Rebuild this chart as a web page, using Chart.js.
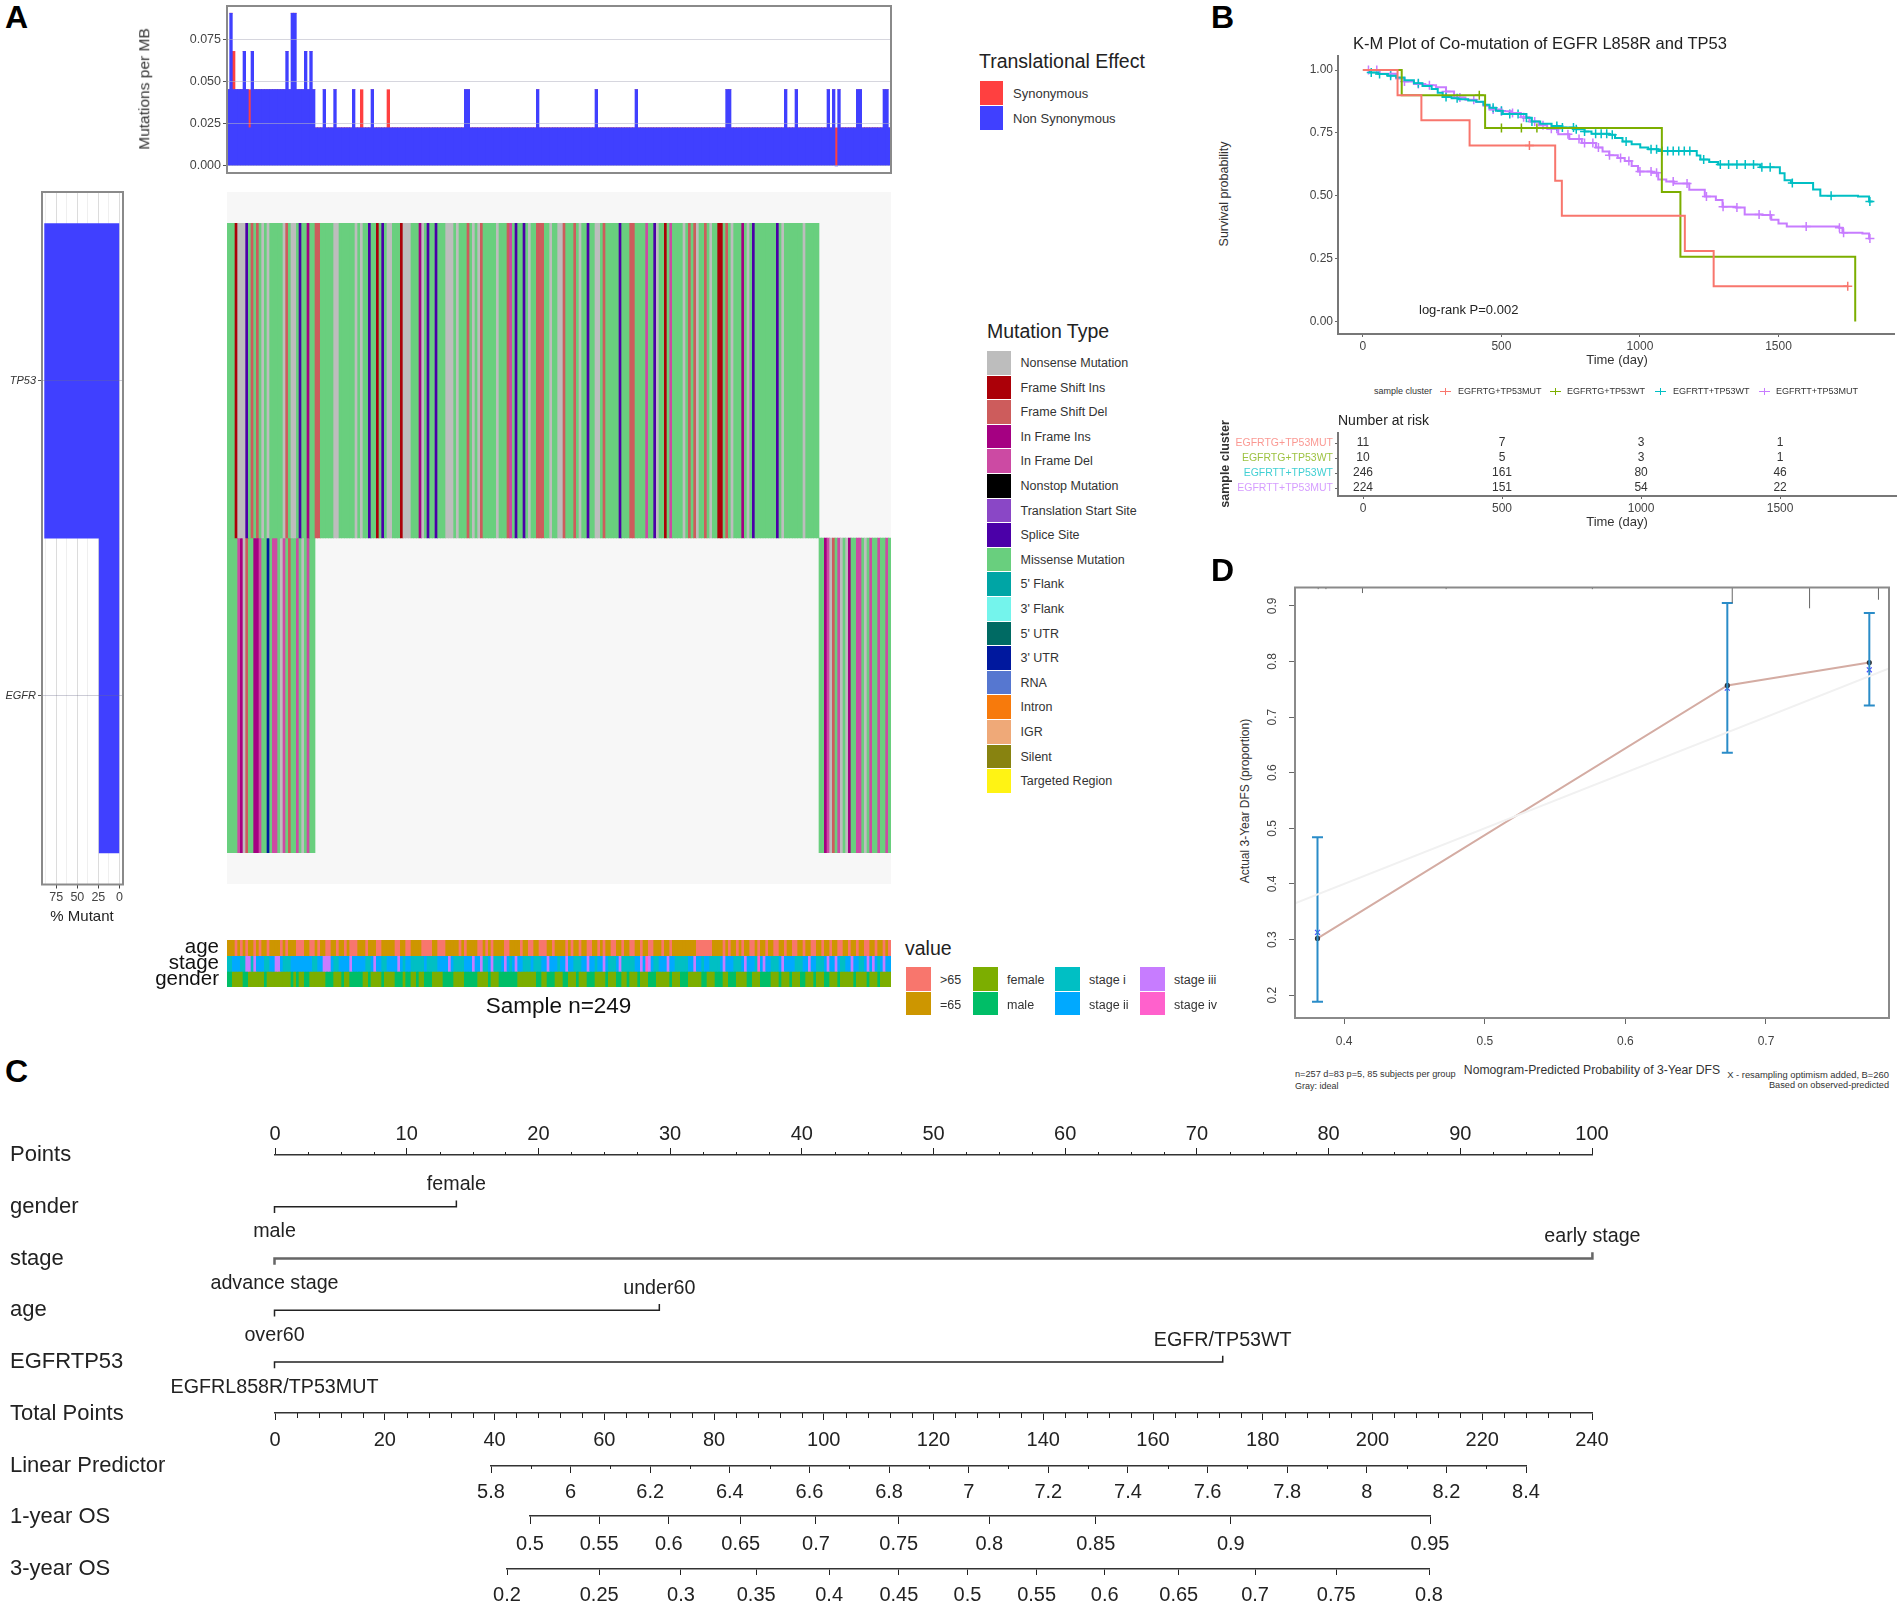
<!DOCTYPE html>
<html>
<head>
<meta charset="utf-8">
<title>EGFR L858R and TP53 figure</title>
<script src="https://cdn.jsdelivr.net/npm/chart.js@4/dist/chart.umd.min.js"></script>
<style>
  body { margin: 0; background: #fff; width: 1900px; height: 1604px; position: relative; overflow: hidden; font-family: "Liberation Sans", Arial, sans-serif; }
  canvas { position: absolute; }
  canvas.soft { filter: blur(0.5px); }
  .t { position: absolute; white-space: nowrap; line-height: 1; }
  .sw { position: absolute; }
</style>
</head>
<body>
<script>
// ---- panel A: mutation burden, read as sample index lists
const sampleCount = 249;
const sampleIds = Array.from({ length: sampleCount }, (_, i) => i);
const tmbLevels = [0, 0.0227, 0.0455, 0.0682, 0.0909];
const tmbTwoHits = [36, 40, 47, 54, 89, 90, 116, 138, 153, 187, 188, 209, 213, 225, 227, 229, 236, 237, 246, 247];
const tmbThreeHits = [6, 9, 22, 29, 31];
const tmbFourHits = [1, 24, 25];
const tmbSynSamples = [2, 8, 50, 60, 228];
const tmbSynBelow = [2, 1, 1, 1, 0];   // non synonymous hits under the red segment
const tmbTicks = [0, 0.025, 0.05, 0.075];

// ---- panel A: oncoplot
const tp53Count = 222;      // first samples carry TP53
const egfrLeftCount = 33;   // of those, also EGFR
const tp53Nonsense = [4, 5, 6, 13, 15, 21, 24, 25, 40, 41, 48, 50, 60, 61, 66, 67, 68, 73, 82, 83, 84, 86, 92, 94, 101, 113, 121, 124, 125, 132, 138, 139, 161, 171, 176, 181, 189, 195, 208, 216];
const tp53FsDel = [9, 11, 22, 33, 34, 90, 95, 105, 116, 117, 118, 126, 130, 141, 151, 152, 173, 175, 179, 187];
const tp53FsIns = [3, 56, 65, 164, 184, 185];
const tp53InIns = [30, 72, 193];
const tp53InDel = [106, 157, 166];
const tp53Splice = [7, 27, 53, 58, 75, 78, 108, 111, 135, 147, 160, 197, 206];
const egfrInDel = [4, 12, 17, 18, 21, 26, 30, 225, 229, 236, 237, 241, 244, 247];
const egfrInIns = [5, 10, 11, 224, 233];
const egfrFsDel = [7, 23, 227];
const egfrNonsense = [6, 20, 28, 226, 230, 232, 239];
const egfrRna = [15];
const geneNames = ['TP53', 'EGFR'];
const genePercent = [88.9, 24];
const percentTicks = [87.5, 75, 62.5, 50, 37.5, 25, 12.5, 0];

const mutationTypes = ['Nonsense Mutation', 'Frame Shift Ins', 'Frame Shift Del', 'In Frame Ins', 'In Frame Del', 'Nonstop Mutation', 'Translation Start Site', 'Splice Site', 'Missense Mutation', "5' Flank", "3' Flank", "5' UTR", "3' UTR", 'RNA', 'Intron', 'IGR', 'Silent', 'Targeted Region'];
const mutationColors = ['#bdbdbd', '#ab0008', '#cd5c5c', '#a50082', '#cc4aa3', '#000000', '#8a47c6', '#4b00a8', '#69cf7e', '#00a5a5', '#74f4ec', '#006a63', '#00189e', '#5677d0', '#f77a0c', '#efa978', '#888310', '#fff314'];
const effectNames = ['Synonymous', 'Non Synonymous'];
const effectColors = ['#ff4040', '#4040ff'];

// ---- panel A: clinical strips
const ageOver65 = [3, 5, 7, 10, 12, 15, 20, 22, 26, 27, 28, 31, 32, 34, 37, 38, 41, 44, 46, 47, 48, 52, 56, 57, 63, 64, 67, 68, 73, 74, 75, 76, 79, 80, 81, 87, 89, 94, 95, 97, 99, 104, 105, 110, 113, 114, 117, 118, 119, 122, 127, 129, 132, 135, 136, 139, 141, 144, 145, 148, 151, 152, 155, 158, 159, 163, 166, 176, 177, 178, 179, 180, 181, 186, 188, 191, 193, 196, 197, 199, 202, 205, 206, 209, 212, 213, 216, 219, 220, 223, 226, 229, 230, 233, 236, 239, 240, 243, 246, 248];
const stageOne = [0, 1, 5, 6, 9, 14, 15, 21, 22, 23, 32, 33, 40, 41, 52, 53, 58, 59, 66, 69, 70, 71, 72, 73, 75, 76, 77, 78, 85, 86, 87, 88, 96, 97, 100, 101, 102, 106, 111, 112, 113, 115, 116, 117, 124, 130, 131, 132, 138, 143, 144, 145, 148, 149, 150, 151, 152, 160, 161, 168, 169, 170, 171, 172, 178, 181, 182, 183, 184, 190, 191, 192, 198, 204, 205, 206, 213, 214, 215, 221, 222, 223, 230, 231, 237, 238, 244];
const stageThree = [7, 8, 10, 18, 19, 36, 37, 38, 46, 55, 64, 83, 92, 95, 99, 104, 108, 120, 127, 135, 141, 147, 155, 158, 165, 175, 186, 194, 201, 208, 218, 225, 228, 234, 240, 242, 246];
const stageFour = [157, 199];
const genderMale = [0, 1, 6, 7, 14, 24, 26, 29, 30, 37, 38, 39, 43, 46, 47, 48, 49, 50, 53, 58, 63, 64, 65, 67, 68, 71, 74, 75, 76, 81, 82, 83, 84, 89, 90, 91, 92, 93, 98, 102, 103, 104, 105, 106, 107, 108, 116, 117, 120, 121, 122, 126, 127, 131, 135, 136, 137, 142, 146, 147, 150, 154, 158, 159, 160, 166, 170, 171, 172, 178, 179, 183, 184, 185, 188, 189, 190, 195, 196, 200, 201, 202, 203, 207, 211, 215, 216, 220, 224, 225, 229, 235, 240, 244];
const clinicalRows = ['gender', 'stage', 'age'];
const valueNames = ['>65', '=65', 'female', 'male', 'stage i', 'stage ii', 'stage iii', 'stage iv'];
const valueColors = ['#f8766d', '#cd9600', '#7cae00', '#00be67', '#00bfc4', '#00a9ff', '#c77cff', '#ff61cc'];

// ---- panel B: survival curves
const clusterNames = ['EGFRTG+TP53MUT', 'EGFRTG+TP53WT', 'EGFRTT+TP53WT', 'EGFRTT+TP53MUT'];
const clusterColors = ['#f8766d', '#7cae00', '#00bfc4', '#c77cff'];
const tgMutDays = [0, 125, 211, 385, 694, 718, 1162, 1266, 1750];
const tgMutSurv = [1, 0.9, 0.8, 0.7, 0.56, 0.42, 0.28, 0.14, 0.14];
const tgMutCensor = [601, 1750];
const tgWtDays = [0, 140, 441, 1079, 1146, 1777];
const tgWtSurv = [1, 0.9, 0.77, 0.515, 0.257, 0];
const tgWtCensor = [420, 500, 572, 628];
const ttWtDays = [0, 25, 56, 90, 120, 150, 184, 215, 248, 270, 288, 320, 345, 380, 409, 435, 457, 480, 505, 590, 609, 640, 681, 720, 761, 800, 825, 889, 910, 937, 970, 1001, 1030, 1066, 1205, 1218, 1250, 1282, 1434, 1505, 1522, 1545, 1625, 1651, 1787, 1827, 1840];
const ttWtSurv = [1, 0.99, 0.984, 0.977, 0.97, 0.96, 0.948, 0.937, 0.925, 0.91, 0.893, 0.888, 0.884, 0.879, 0.874, 0.862, 0.85, 0.838, 0.825, 0.81, 0.795, 0.786, 0.778, 0.772, 0.765, 0.756, 0.747, 0.743, 0.73, 0.716, 0.705, 0.692, 0.685, 0.678, 0.66, 0.644, 0.634, 0.624, 0.613, 0.59, 0.562, 0.551, 0.525, 0.5, 0.497, 0.477, 0.477];
const ttWtCensor = [30, 60, 100, 200, 300, 340, 470, 500, 530, 560, 590, 610, 700, 720, 760, 770, 800, 840, 860, 880, 900, 950, 1040, 1060, 1080, 1100, 1120, 1140, 1160, 1180, 1230, 1290, 1320, 1350, 1380, 1410, 1440, 1470, 1550, 1690, 1830];
const ttMutDays = [0, 60, 120, 150, 184, 225, 264, 300, 329, 370, 409, 435, 457, 500, 537, 570, 601, 635, 665, 705, 745, 790, 841, 865, 889, 920, 945, 970, 993, 1042, 1066, 1095, 1122, 1178, 1234, 1274, 1298, 1346, 1378, 1442, 1474, 1500, 1530, 1719, 1731, 1803, 1827, 1830];
const ttMutSurv = [1, 0.985, 0.966, 0.955, 0.945, 0.94, 0.932, 0.915, 0.891, 0.882, 0.873, 0.858, 0.843, 0.836, 0.829, 0.812, 0.795, 0.78, 0.767, 0.745, 0.726, 0.71, 0.692, 0.676, 0.661, 0.65, 0.638, 0.618, 0.596, 0.592, 0.565, 0.557, 0.549, 0.524, 0.497, 0.483, 0.456, 0.453, 0.425, 0.423, 0.405, 0.39, 0.378, 0.373, 0.353, 0.35, 0.33, 0.33];
const ttMutCensor = [20, 50, 100, 150, 200, 240, 300, 350, 400, 470, 500, 540, 580, 620, 650, 680, 700, 740, 780, 800, 830, 850, 890, 930, 960, 1000, 1040, 1060, 1120, 1170, 1240, 1300, 1350, 1430, 1470, 1600, 1720, 1735, 1830];
const dayTicks = [0, 500, 1000, 1500];
const survTicks = [0, 0.25, 0.5, 0.75, 1];
const riskTgMut = [11, 7, 3, 1];
const riskTgWt = [10, 5, 3, 1];
const riskTtWt = [246, 161, 80, 46];
const riskTtMut = [224, 151, 54, 22];

// ---- panel D: calibration
const calPredicted = [0.381, 0.6725, 0.7735];
const calObserved = [0.302, 0.757, 0.798];
const calCorrected = [0.313, 0.752, 0.785];
const calLower = [0.188, 0.636, 0.721];
const calUpper = [0.484, 0.905, 0.887];
const idealLine = [0.365, 0.7875];
const rugX = [0.3815, 0.387, 0.413, 0.4725, 0.5765, 0.676, 0.731, 0.78];
const rugEnd = [0.93, 0.93, 0.923, 0.93, 0.93, 0.905, 0.8956, 0.911];
const calXTicks = [0.4, 0.5, 0.6, 0.7];
const calYTicks = [0.2, 0.3, 0.4, 0.5, 0.6, 0.7, 0.8, 0.9];

// ---- panel C: nomogram
const nomoRows = ['Points', 'gender', 'stage', 'age', 'EGFRTP53', 'Total Points', 'Linear Predictor', '1-year OS', '3-year OS'];
const pointsTicks = [0, 10, 20, 30, 40, 50, 60, 70, 80, 90, 100];
const pointsMinor = [2.5, 5, 7.5, 12.5, 15, 17.5, 22.5, 25, 27.5, 32.5, 35, 37.5, 42.5, 45, 47.5, 52.5, 55, 57.5, 62.5, 65, 67.5, 72.5, 75, 77.5, 82.5, 85, 87.5, 92.5, 95, 97.5];
const genderPoints = [0, 13.8];
const stagePoints = [0, 100];
const agePoints = [0, 29.2];
const egfrPoints = [0, 71.95];
const genderLabels = ['male', 'female'];
const stageLabels = ['advance stage', 'early stage'];
const ageLabels = ['over60', 'under60'];
const egfrLabels = ['EGFRL858R/TP53MUT', 'EGFR/TP53WT'];
const totalTicks = [0, 20, 40, 60, 80, 100, 120, 140, 160, 180, 200, 220, 240];
const totalMinor = [4, 8, 12, 16, 24, 28, 32, 36, 44, 48, 52, 56, 64, 68, 72, 76, 84, 88, 92, 96, 104, 108, 112, 116, 124, 128, 132, 136, 144, 148, 152, 156, 164, 168, 172, 176, 184, 188, 192, 196, 204, 208, 212, 216, 224, 228, 232, 236];
const lpTicks = [5.8, 6, 6.2, 6.4, 6.6, 6.8, 7, 7.2, 7.4, 7.6, 7.8, 8, 8.2, 8.4];
const lpMinor = [5.9, 6.1, 6.3, 6.5, 6.7, 6.9, 7.1, 7.3, 7.5, 7.7, 7.9, 8.1, 8.3];
// survival axes are not linear: tick positions read on the total points scale
const os1Labels = ['0.5', '0.55', '0.6', '0.65', '0.7', '0.75', '0.8', '0.85', '0.9', '0.95'];
const os1AtTotal = [46.5, 59.1, 71.8, 84.9, 98.6, 113.7, 130.2, 149.6, 174.2, 210.5];
const os3Labels = ['0.2', '0.25', '0.3', '0.35', '0.4', '0.45', '0.5', '0.55', '0.6', '0.65', '0.7', '0.75', '0.8'];
const os3AtTotal = [42.3, 59.1, 74, 87.7, 101, 113.7, 126.2, 138.8, 151.2, 164.7, 178.6, 193.4, 210.3];

// ---- helpers
Chart.defaults.animation = false;
Chart.defaults.responsive = false;
Chart.defaults.font.family = '"Liberation Sans", Arial, sans-serif';
Chart.defaults.plugins.legend.display = false;
Chart.defaults.plugins.tooltip.enabled = false;

function text(str, x, y, o = {}) {
  const el = document.createElement('div');
  el.className = 't';
  el.textContent = str;
  const dx = o.anchor === 'l' ? '0' : o.anchor === 'r' ? '-100%' : '-50%';
  el.style.cssText = `left:${x}px;top:${y}px;font-size:${o.size || 12}px;color:${o.color || '#222'};` +
    `font-weight:${o.bold ? 'bold' : 'normal'};transform:translate(${dx},-50%)${o.rot ? ` rotate(${o.rot}deg)` : ''};`;
  document.body.appendChild(el);
}

function swatch(x, y, w, h, color) {
  const el = document.createElement('div');
  el.className = 'sw';
  el.style.cssText = `left:${x}px;top:${y}px;width:${w}px;height:${h}px;background:${color};`;
  document.body.appendChild(el);
}

// box and plot are page rectangles, the scales are forced to leave exactly that plot area
function place(box, plot, config, soft) {
  const c = document.createElement('canvas');
  c.width = box.w; c.height = box.h;
  c.style.left = box.x + 'px'; c.style.top = box.y + 'px';
  if (soft) c.className = 'soft';
  document.body.appendChild(c);
  const sc = config.options.scales;
  const atTop = sc.x.position === 'top';
  sc.x.afterFit = s => {
    s.height = atTop ? plot.t - box.y : box.y + box.h - plot.b;
    s.paddingLeft = s.paddingRight = 0;
  };
  sc.y.afterFit = s => {
    s.width = plot.l - box.x;
    s.paddingTop = s.paddingBottom = 0;
  };
  config.options.layout = {
    padding: {
      left: 0,
      top: atTop ? 0 : plot.t - box.y,
      right: box.x + box.w - plot.r,
      bottom: atTop ? box.y + box.h - plot.b : 0
    }
  };
  return new Chart(c.getContext('2d'), config);
}

const framePlugin = color => ({
  id: 'frame',
  afterDraw(chart) {
    const a = chart.chartArea, ctx = chart.ctx;
    ctx.save();
    ctx.strokeStyle = color;
    ctx.lineWidth = 2;
    ctx.strokeRect(a.left, a.top, a.right - a.left, a.bottom - a.top);
    ctx.restore();
  }
});

const backdropPlugin = color => ({
  id: 'backdrop',
  beforeDatasetsDraw(chart) {
    const a = chart.chartArea;
    chart.ctx.fillStyle = color;
    chart.ctx.fillRect(a.left, a.top, a.right - a.left, a.bottom - a.top);
  }
});

const setTicks = vals => s => { s.ticks = vals.map(v => ({ value: v })); };

// ---- A: mutations per MB
const hits = i => {
  if (tmbFourHits.includes(i)) return 4;
  if (tmbThreeHits.includes(i)) return 3;
  if (tmbTwoHits.includes(i) || i < egfrLeftCount) return 2;
  return 1;
};
const nonSynSeries = sampleIds.map(i => {
  const k = tmbSynSamples.indexOf(i);
  return tmbLevels[k >= 0 ? tmbSynBelow[k] : hits(i)];
});
const synSeries = sampleIds.map(i => (tmbSynSamples.includes(i) ? tmbLevels[1] : 0));

place({ x: 130, y: 0, w: 770, h: 180 }, { l: 227, t: 6, r: 891, b: 173 }, {
  type: 'bar',
  data: {
    labels: sampleIds,
    datasets: [
      { label: effectNames[1], data: nonSynSeries, backgroundColor: effectColors[1], barPercentage: 1, categoryPercentage: 1 },
      { label: effectNames[0], data: synSeries, backgroundColor: effectColors[0], barPercentage: 1, categoryPercentage: 1 }
    ]
  },
  options: {
    scales: {
      x: { stacked: true, display: false },
      y: {
        stacked: true, min: -0.0042, max: 0.0952,
        afterBuildTicks: setTicks(tmbTicks),
        ticks: { callback: v => v.toFixed(3), color: '#444', font: { size: 12.5 }, padding: 2 },
        grid: { color: 'rgba(180,180,195,.55)', tickColor: '#555', tickLength: 4, z: 1 },
        border: { display: false }
      }
    }
  },
  plugins: [framePlugin('#8a8a8a')]
}, true);

// ---- A: % mutant
place({ x: 0, y: 185, w: 130, h: 725 }, { l: 42, t: 192, r: 123, b: 884.5 }, {
  type: 'bar',
  data: {
    datasets: [{
      data: genePercent.map((v, i) => ({ x: v, y: i === 0 ? 1.5 : 0.5 })),
      backgroundColor: effectColors[1], barPercentage: 1, categoryPercentage: 1
    }]
  },
  options: {
    indexAxis: 'y',
    scales: {
      x: {
        type: 'linear', reverse: true, min: -4.3, max: 92,
        afterBuildTicks: setTicks(percentTicks),
        ticks: { autoSkip: false, maxRotation: 0, color: '#444', font: { size: 12.5 }, padding: 2, callback: v => (v % 25 === 0 ? String(v) : '') },
        grid: { color: c => (c.tick && c.tick.value % 25 === 0 ? '#dcdcdc' : '#efefef'), tickColor: c => (c.tick && c.tick.value % 25 === 0 ? '#444' : 'transparent'), tickLength: 4 },
        border: { display: false }
      },
      y: {
        type: 'linear', min: -0.1, max: 2.1, offset: false,
        afterBuildTicks: setTicks([0.5, 1.5]),
        ticks: { autoSkip: false, color: '#333', font: { size: 11, style: 'italic' }, padding: 2, callback: v => (v > 1 ? geneNames[0] : geneNames[1]) },
        grid: { offset: false, color: 'rgba(110,110,140,.35)', tickColor: '#555', tickLength: 4, z: 1 },
        border: { display: false }
      }
    }
  },
  plugins: [framePlugin('#8a8a8a')]
}, true);

// ---- A: oncoplot
const colorOf = name => mutationColors[mutationTypes.indexOf(name)];
function cellColors(groups) {
  return sampleIds.map(i => {
    for (const [list, name] of groups) if (list.includes(i)) return colorOf(name);
    return colorOf('Missense Mutation');
  });
}
const tp53Colors = cellColors([[tp53Nonsense, 'Nonsense Mutation'], [tp53FsDel, 'Frame Shift Del'], [tp53FsIns, 'Frame Shift Ins'], [tp53InIns, 'In Frame Ins'], [tp53InDel, 'In Frame Del'], [tp53Splice, 'Splice Site']]);
const egfrColors = cellColors([[egfrNonsense, 'Nonsense Mutation'], [egfrFsDel, 'Frame Shift Del'], [egfrInIns, 'In Frame Ins'], [egfrInDel, 'In Frame Del'], [egfrRna, "3' UTR"]]);
const tp53Cells = sampleIds.map(i => (i < tp53Count ? [1, 2] : null));
const egfrCells = sampleIds.map(i => (i < egfrLeftCount || i >= tp53Count ? [0, 1] : null));

place({ x: 227, y: 192, w: 664, h: 692.5 }, { l: 227, t: 192, r: 891, b: 884.5 }, {
  type: 'bar',
  data: {
    labels: sampleIds,
    datasets: [
      { label: 'TP53', data: tp53Cells, backgroundColor: tp53Colors, barPercentage: 1, categoryPercentage: 1, grouped: false },
      { label: 'EGFR', data: egfrCells, backgroundColor: egfrColors, barPercentage: 1, categoryPercentage: 1, grouped: false }
    ]
  },
  options: {
    scales: {
      x: { display: false },
      y: { display: false, min: -0.1, max: 2.1 }
    }
  },
  plugins: [backdropPlugin('#f7f7f7')]
}, true);

// ---- A: clinical strips
const vc = name => valueColors[valueNames.indexOf(name)];
const ageColors = sampleIds.map(i => (ageOver65.includes(i) ? vc('>65') : vc('=65')));
const stageColors = sampleIds.map(i => {
  if (stageFour.includes(i)) return vc('stage iv');
  if (stageThree.includes(i)) return vc('stage iii');
  return stageOne.includes(i) ? vc('stage i') : vc('stage ii');
});
const genderColors = sampleIds.map(i => (genderMale.includes(i) ? vc('male') : vc('female')));

place({ x: 140, y: 930, w: 760, h: 70 }, { l: 227, t: 940, r: 891, b: 987 }, {
  type: 'bar',
  data: {
    labels: sampleIds,
    datasets: [
      { label: 'age', data: sampleIds.map(() => [1.5, 2.5]), backgroundColor: ageColors, barPercentage: 1, categoryPercentage: 1, grouped: false },
      { label: 'stage', data: sampleIds.map(() => [0.5, 1.5]), backgroundColor: stageColors, barPercentage: 1, categoryPercentage: 1, grouped: false },
      { label: 'gender', data: sampleIds.map(() => [-0.5, 0.5]), backgroundColor: genderColors, barPercentage: 1, categoryPercentage: 1, grouped: false }
    ]
  },
  options: {
    scales: {
      x: { display: false },
      y: {
        type: 'linear', min: -0.5, max: 2.5,
        afterBuildTicks: setTicks([0, 1, 2]),
        ticks: { autoSkip: false, color: '#111', font: { size: 20.5 }, padding: 8, callback: v => clinicalRows[v] },
        grid: { display: false, drawTicks: false },
        border: { display: false }
      }
    }
  }
}, true);

// ---- A: titles and legends
text('A', 5, 17, { size: 32, bold: true, anchor: 'l', color: '#000' });
text('Mutations per MB', 144, 89, { size: 15.5, rot: -90, color: '#333' });
text('% Mutant', 82, 915, { size: 15, color: '#222' });
text('Sample n=249', 558.5, 1005.5, { size: 22.5, color: '#111' });

text('Translational Effect', 979, 62, { size: 19.5, anchor: 'l' });
effectNames.forEach((n, i) => {
  swatch(980, 81 + i * 24.5, 23, 24, effectColors[i]);
  text(n, 1013, 93 + i * 25, { size: 13, anchor: 'l', color: '#333' });
});
text('Mutation Type', 987, 332, { size: 19.5, anchor: 'l' });
mutationTypes.forEach((n, i) => {
  swatch(987, 351 + i * 24.6, 24, 23.6, mutationColors[i]);
  text(n, 1020.5, 363 + i * 24.6, { size: 12.5, anchor: 'l', color: '#333' });
});
text('value', 905, 949, { size: 19.5, anchor: 'l' });
[[906, 940], [973, 1007], [1055, 1089], [1140, 1174]].forEach(([sx, tx], col) => {
  [0, 1].forEach(row => {
    const k = col * 2 + row;
    swatch(sx, 967 + row * 24.5, 24.5, 23.5, valueColors[k]);
    text(valueNames[k], tx, 980 + row * 24.5, { size: 12.5, anchor: 'l', color: '#333' });
  });
});

// ---- B: survival
const toPoints = (days, surv) => days.map((d, i) => ({ x: d, y: surv[i] }));
function survAt(days, surv, day) {
  let s = surv[0];
  days.forEach((d, i) => { if (d <= day) s = surv[i]; });
  return s;
}
const curves = [
  [tgMutDays, tgMutSurv, tgMutCensor],
  [tgWtDays, tgWtSurv, tgWtCensor],
  [ttWtDays, ttWtSurv, ttWtCensor],
  [ttMutDays, ttMutSurv, ttMutCensor]
];
const kmLines = curves.map(([d, s], i) => ({
  label: clusterNames[i], data: toPoints(d, s), stepped: true, showLine: true,
  borderColor: clusterColors[i], borderWidth: 2, pointRadius: 0
}));
const kmMarks = curves.map(([d, s, c], i) => ({
  label: clusterNames[i] + ' censored', data: c.map(day => ({ x: day, y: survAt(d, s, day) })), showLine: false,
  pointStyle: 'cross', pointRadius: 4.5, pointBorderWidth: 1.5, pointBorderColor: clusterColors[i], borderColor: clusterColors[i]
}));

const dayAxis = {
  type: 'linear', min: -90, max: 1917,
  afterBuildTicks: setTicks(dayTicks),
  ticks: { autoSkip: false, maxRotation: 0, color: '#444', font: { size: 12 }, padding: 2, callback: v => String(v) },
  grid: { drawOnChartArea: false, tickLength: 3, tickColor: '#666' },
  border: { color: '#777', width: 2 }
};

place({ x: 1240, y: 50, w: 660, h: 310 }, { l: 1338, t: 55, r: 1896, b: 334 }, {
  type: 'scatter',
  data: { datasets: [...kmLines, ...kmMarks] },
  options: {
    scales: {
      x: dayAxis,
      y: {
        min: -0.05, max: 1.056,
        afterBuildTicks: setTicks(survTicks),
        ticks: { autoSkip: false, color: '#444', font: { size: 12 }, padding: 2, callback: v => v.toFixed(2) },
        grid: { drawOnChartArea: false, tickLength: 3, tickColor: '#666' },
        border: { color: '#777', width: 2 }
      }
    }
  }
}, true);

// ---- B: numbers at risk
const riskSeries = [riskTgMut, riskTgWt, riskTtWt, riskTtMut];
const riskPlugin = {
  id: 'riskNumbers',
  afterDatasetsDraw(chart) {
    const ctx = chart.ctx;
    ctx.save();
    ctx.fillStyle = '#333';
    ctx.font = '12px "Liberation Sans"';
    ctx.textAlign = 'center';
    ctx.textBaseline = 'middle';
    chart.data.datasets.forEach((ds, k) => {
      chart.getDatasetMeta(k).data.forEach((pt, i) => ctx.fillText(String(riskSeries[k][i]), pt.x, pt.y));
    });
    ctx.restore();
  }
};
const paleCluster = ['rgba(248,118,109,.75)', 'rgba(124,174,0,.75)', 'rgba(0,191,196,.75)', 'rgba(199,124,255,.75)'];
place({ x: 1200, y: 425, w: 700, h: 90 }, { l: 1338, t: 433, r: 1896, b: 496 }, {
  type: 'scatter',
  data: {
    datasets: riskSeries.map((vals, r) => ({
      label: clusterNames[r], data: vals.map((v, i) => ({ x: dayTicks[i], y: r })), pointRadius: 0, showLine: false
    }))
  },
  options: {
    scales: {
      x: { ...dayAxis, ticks: { ...dayAxis.ticks } },
      y: {
        type: 'linear', reverse: true, min: -0.667, max: 3.53,
        afterBuildTicks: setTicks([0, 1, 2, 3]),
        ticks: { autoSkip: false, color: c => paleCluster[c.index], font: { size: 10.5 }, padding: 2, callback: v => clusterNames[v] },
        grid: { drawOnChartArea: false, tickLength: 3, tickColor: '#666' },
        border: { color: '#777', width: 2 }
      }
    }
  },
  plugins: [riskPlugin]
}, true);

text('B', 1211, 17, { size: 32, bold: true, anchor: 'l', color: '#000' });
text('K-M Plot of Co-mutation of EGFR L858R and TP53', 1353, 43, { size: 16.5, anchor: 'l', color: '#222' });
text('log-rank P=0.002', 1419, 309, { size: 13, anchor: 'l', color: '#222' });
text('Survival probability', 1224, 194, { size: 12.5, rot: -90, color: '#333' });
text('Time (day)', 1617, 359, { size: 13, color: '#333' });
text('sample cluster', 1374, 391, { size: 9, anchor: 'l', color: '#333' });
[[1440, 1458], [1550, 1567], [1655, 1673], [1759, 1776]].forEach(([mx, tx], i) => {
  swatch(mx, 390.5, 11, 1.5, clusterColors[i]);
  swatch(mx + 4.7, 387.5, 1.5, 7.5, clusterColors[i]);
  text(clusterNames[i], tx, 391, { size: 9, anchor: 'l', color: '#333' });
});
text('Number at risk', 1338, 420, { size: 14, anchor: 'l', color: '#222' });
text('sample cluster', 1224.5, 464, { size: 12.5, rot: -90, bold: true, color: '#333' });
text('Time (day)', 1617, 521, { size: 13, color: '#333' });

// ---- D: calibration
const errorBars = calPredicted.map((x, i) => ({
  label: 'CI ' + i, data: [{ x, y: calLower[i] }, { x, y: calUpper[i] }], showLine: true,
  borderColor: '#2a8cc8', borderWidth: 2, pointStyle: 'line', pointRadius: 5.5, pointBorderColor: '#2a8cc8', pointBorderWidth: 2
}));
const rugLines = rugX.map((x, i) => ({
  label: 'rug ' + i, data: [{ x, y: rugEnd[i] }, { x, y: 0.933 }], showLine: true, borderColor: '#666', borderWidth: 1, pointRadius: 0
}));

place({ x: 1255, y: 580, w: 645, h: 480 }, { l: 1295, t: 587, r: 1889, b: 1018 }, {
  type: 'scatter',
  data: {
    datasets: [
      { label: 'ideal', data: idealLine.map(v => ({ x: v, y: v })), showLine: true, borderColor: '#f1f1f1', borderWidth: 2, pointRadius: 0 },
      ...rugLines,
      ...errorBars,
      { label: 'observed', data: calPredicted.map((x, i) => ({ x, y: calObserved[i] })), showLine: true, borderColor: '#d4aca3', borderWidth: 2, pointRadius: 1.6, pointBackgroundColor: '#333', pointBorderColor: '#333' },
      { label: 'corrected', data: calPredicted.map((x, i) => ({ x, y: calCorrected[i] })), showLine: false, pointStyle: 'crossRot', pointRadius: 3.5, pointBorderColor: '#4a4aff', pointBorderWidth: 1.2 }
    ]
  },
  options: {
    scales: {
      x: {
        min: 0.365, max: 0.7875,
        afterBuildTicks: setTicks(calXTicks),
        ticks: { autoSkip: false, maxRotation: 0, color: '#444', font: { size: 12 }, padding: 10, callback: v => v.toFixed(1) },
        grid: { drawOnChartArea: false, tickLength: 6, tickColor: '#666' },
        border: { display: false }
      },
      y: {
        min: 0.159, max: 0.933,
        afterBuildTicks: setTicks(calYTicks),
        ticks: { autoSkip: false, minRotation: 90, maxRotation: 90, crossAlign: 'center', color: '#444', font: { size: 12 }, padding: 8, callback: v => v.toFixed(1) },
        grid: { drawOnChartArea: false, tickLength: 6, tickColor: '#666' },
        border: { display: false }
      }
    }
  },
  plugins: [framePlugin('#8a8a8a')]
}, true);

text('D', 1211, 570, { size: 32, bold: true, anchor: 'l', color: '#000' });
text('Actual 3-Year DFS (proportion)', 1245, 801, { size: 12, rot: -90, color: '#333' });
text('Nomogram-Predicted Probability of 3-Year DFS', 1592, 1070, { size: 12.2, color: '#333' });
text('n=257 d=83 p=5, 85 subjects per group', 1295, 1075, { size: 9.2, anchor: 'l', color: '#333' });
text('Gray: ideal', 1295, 1086, { size: 9, anchor: 'l', color: '#333' });
text('X - resampling optimism added, B=260', 1889, 1075, { size: 9.4, anchor: 'r', color: '#333' });
text('Based on observed-predicted', 1889, 1086, { size: 9.2, anchor: 'r', color: '#333' });

// ---- C: nomogram rows with categories, row names on the y axis
const stub = 0.12;
function levelLine(row, pts, color, width) {
  return {
    label: nomoRows[row],
    data: [{ x: pts[0], y: row + stub }, { x: pts[0], y: row }, { x: pts[1], y: row }, { x: pts[1], y: row - stub }],
    showLine: true, borderColor: color, borderWidth: width, pointRadius: 0, clip: false
  };
}
const nomoLevels = [[1, genderPoints, genderLabels], [2, stagePoints, stageLabels], [3, agePoints, ageLabels], [4, egfrPoints, egfrLabels]];
const levelLabelPlugin = {
  id: 'levelLabels',
  afterDatasetsDraw(chart) {
    const { ctx, scales } = chart;
    ctx.save();
    ctx.fillStyle = '#222';
    ctx.font = '19.7px "Liberation Sans"';
    ctx.textAlign = 'center';
    ctx.textBaseline = 'middle';
    nomoLevels.forEach(([row, pts, labels]) => {
      ctx.fillText(labels[0], scales.x.getPixelForValue(pts[0]), scales.y.getPixelForValue(row + 0.485));
      ctx.fillText(labels[1], scales.x.getPixelForValue(pts[1]), scales.y.getPixelForValue(row - 0.42));
    });
    ctx.restore();
  }
};
place({ x: 10, y: 1100, w: 1650, h: 504 }, { l: 274.5, t: 1103.25, r: 1592.4, b: 1604 }, {
  type: 'scatter',
  data: {
    datasets: [
      levelLine(1, genderPoints, '#222', 1.5),
      levelLine(2, stagePoints, '#666', 2.5),
      levelLine(3, agePoints, '#222', 1.5),
      levelLine(4, egfrPoints, '#222', 1.5)
    ]
  },
  options: {
    scales: {
      x: { display: false, min: 0, max: 100 },
      y: {
        type: 'linear', reverse: true, min: -1, max: 8.676,
        afterBuildTicks: setTicks([0, 1, 2, 3, 4, 5, 6, 7, 8]),
        ticks: { autoSkip: false, crossAlign: 'far', color: '#222', font: { size: 22 }, padding: 0, callback: v => nomoRows[v] },
        grid: { display: false, drawTicks: false },
        border: { display: false }
      }
    }
  },
  plugins: [levelLabelPlugin]
});
text('C', 5, 1071, { size: 32, bold: true, anchor: 'l', color: '#000' });

// ---- C: numeric axes, one small chart per row
const minorPlugin = {
  id: 'minorTicks',
  afterDraw(chart, args, opts) {
    const { ctx, scales, chartArea } = chart;
    if (!opts.values) return;
    ctx.save();
    ctx.strokeStyle = '#222';
    ctx.lineWidth = 1;
    const y0 = opts.up ? chartArea.top : chartArea.bottom;
    const y1 = opts.up ? y0 - opts.len : y0 + opts.len;
    opts.values.forEach(v => {
      const x = Math.round(scales.x.getPixelForValue(v)) + 0.5;
      ctx.beginPath(); ctx.moveTo(x, y0); ctx.lineTo(x, y1); ctx.stroke();
    });
    ctx.restore();
  }
};
function nomoAxis(o) {
  const up = !!o.up;
  const box = up
    ? { x: o.left - 40, y: o.line - 43, w: o.right - o.left + 80, h: 46 }
    : { x: o.left - 40, y: o.line - 3, w: o.right - o.left + 80, h: 46 };
  const plot = up
    ? { l: o.left, t: o.line, r: o.right, b: o.line + 2 }
    : { l: o.left, t: o.line - 2, r: o.right, b: o.line };
  place(box, plot, {
    type: 'scatter',
    data: { datasets: [] },
    options: {
      plugins: { minorTicks: { values: o.minor, len: o.minorLen, up } },
      scales: {
        x: {
          type: 'linear', position: up ? 'top' : 'bottom', min: o.min, max: o.max,
          afterBuildTicks: setTicks(o.ticks),
          ticks: {
            autoSkip: false, maxRotation: 0, color: '#222', font: { size: 20 }, padding: o.pad,
            callback: o.labels ? v => o.labels[o.ticks.indexOf(v)] : v => String(v)
          },
          grid: { drawOnChartArea: false, tickLength: o.tick, tickColor: '#222' },
          border: { color: '#333', width: 1.5 }
        },
        y: { display: false, min: 0, max: 1 }
      }
    },
    plugins: [minorPlugin]
  });
}
const nomoLeft = 274.5, nomoRight = 1592.4;
nomoAxis({ line: 1155, left: nomoLeft, right: nomoRight, min: 0, max: 100, ticks: pointsTicks, minor: pointsMinor, minorLen: 3, tick: 7, pad: 2, up: true });
nomoAxis({ line: 1413.3, left: nomoLeft, right: nomoRight, min: 0, max: 240, ticks: totalTicks, minor: totalMinor, minorLen: 5, tick: 7, pad: 8 });
nomoAxis({ line: 1465.7, left: 491, right: 1526, min: 5.8, max: 8.4, ticks: lpTicks, minor: lpMinor, minorLen: 3, tick: 7, pad: 7 });
nomoAxis({ line: 1516, left: 530, right: 1430.6, min: 46.5, max: 210.5, ticks: os1AtTotal, labels: os1Labels, tick: 8, pad: 8 });
nomoAxis({ line: 1569, left: 507, right: 1429, min: 42.3, max: 210.3, ticks: os3AtTotal, labels: os3Labels, tick: 6, pad: 8 });
</script>
</body>
</html>
